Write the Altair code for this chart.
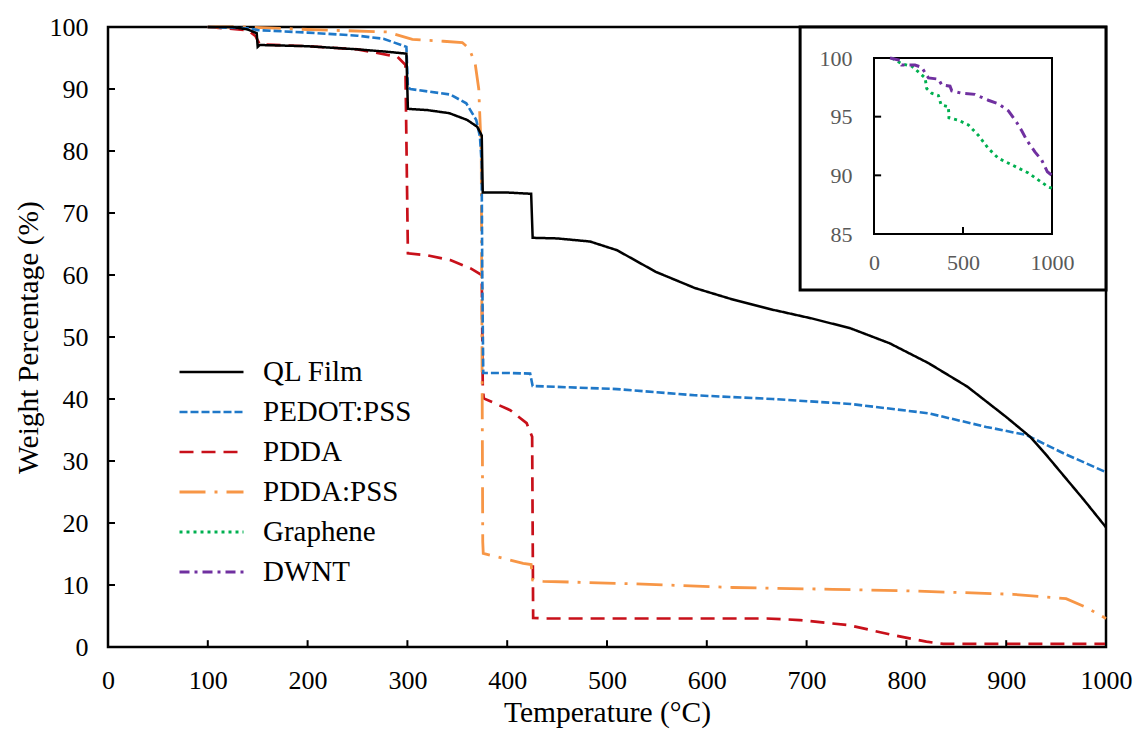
import altair as alt
import pandas as pd

# ---------------- data ----------------
NAMES = ["QL Film", "PEDOT:PSS", "PDDA", "PDDA:PSS", "Graphene", "DWNT"]
COLORS = ["#000000", "#1f78c8", "#c8101a", "#f79646", "#00b050", "#7030a0"]
DASHES = [[1, 0], [8, 3], [14, 8], [26, 9, 3, 9], [3, 4], [10, 5, 3, 5]]
WIDTHS = [2.5, 3, 3, 3, 3, 3]

X_TICKS = [0, 100, 200, 300, 400, 500, 600, 700, 800, 900, 1000]
Y_TICKS = [0, 10, 20, 30, 40, 50, 60, 70, 80, 90, 100]
INSET_X_TICKS = [0, 500, 1000]
INSET_Y_TICKS = [85, 90, 95, 100]

QL_T = [100, 125, 140, 149, 150, 152, 200, 250, 280, 299, 300.5, 320, 342, 360, 370,
        374.5, 375, 375.5, 400, 424, 425.5, 450, 483, 510, 549, 588, 627, 666, 705,
        744, 783, 822, 861, 900, 924, 939, 978, 1000]
QL_W = [100, 100, 99.6, 99.0, 96.8, 97.1, 96.9, 96.4, 96.0, 95.7, 86.8, 86.6, 86.1, 85.0,
        83.9, 82.5, 77.5, 73.3, 73.3, 73.1, 66.0, 65.9, 65.4, 64.0, 60.5, 57.9, 56.0,
        54.4, 53.0, 51.4, 49.0, 45.8, 42.0, 37.1, 33.9, 31.2, 23.7, 19.3]

PEDOT_T = [100, 140, 150, 200, 250, 276, 299, 300.5, 303, 343, 359, 369, 372.7, 374.4,
           375, 376, 400, 423, 425.5, 510, 588, 666, 744, 822, 880, 920, 958, 1000]
PEDOT_W = [100, 99.8, 99.5, 99.1, 98.6, 98.1, 96.8, 90.3, 90.0, 89.1, 87.7, 85.0, 82.3,
           78.0, 60.0, 44.2, 44.2, 44.1, 42.1, 41.6, 40.6, 40.0, 39.2, 37.7, 35.5, 34.2,
           31.2, 28.2]

PDDA_T = [100, 140, 148, 152, 200, 250, 290, 298, 300.5, 319, 343, 363, 374.5, 375.5,
          376.5, 403, 419.5, 425, 426, 440, 500, 600, 660, 693, 743, 787, 820, 837, 900,
          1000]
PDDA_W = [100, 99.5, 98.5, 97.2, 96.9, 96.4, 95.2, 93.9, 63.5, 63.2, 62.4, 61.1, 60.0,
          42.0, 40.1, 38.2, 36.1, 33.9, 4.7, 4.6, 4.6, 4.6, 4.6, 4.35, 3.5, 1.9, 0.86,
          0.5, 0.5, 0.5]

PSS_T = [100, 140, 200, 280, 305, 336, 355, 362, 368, 371.5, 374, 375.5, 376, 416, 424,
         425.5, 436, 526, 626, 726, 794, 907, 960, 980, 1000]
PSS_W = [100, 100, 99.6, 99.2, 98.0, 97.7, 97.5, 96.5, 94.0, 90.0, 80.0, 17.0, 15.1, 13.5,
         13.3, 10.8, 10.6, 10.2, 9.6, 9.3, 9.1, 8.5, 7.8, 6.4, 4.6]

GRAPH_T = [100, 156, 212, 258, 287, 296, 324, 362, 377, 418, 421, 474, 530, 587, 642,
           699, 774, 867, 980, 1000]
GRAPH_W = [100, 99.5, 99.3, 98.7, 98.3, 97.4, 97.0, 96.8, 96.0, 95.85, 94.9, 94.7, 94.3,
           93.4, 92.3, 91.45, 90.9, 90.2, 89.0, 88.9]

DWNT_T = [90, 145, 155, 230, 268, 306, 362, 381, 427, 437, 493, 567, 642, 698, 755, 802,
          830, 858, 904, 942, 974, 1000]
DWNT_W = [100, 99.8, 99.4, 99.4, 99.2, 98.3, 98.2, 97.7, 97.6, 97.2, 97.0, 96.9, 96.4,
          96.1, 95.5, 94.5, 93.8, 93.0, 92.0, 91.3, 90.3, 90.0]

# decoration extents (main-chart data units) of the inset's outer box
INSET_BOX_T = [693.5, 1000]
INSET_BOX_W = [57.6, 100]

FONT = "Liberation Serif"


def frame(t, w, name):
    return pd.DataFrame({"T": t, "W": w, "series": name, "i": list(range(len(t)))})


legend_props = dict(
    title=None, orient="none", legendX=70, legendY=329, symbolType="stroke",
    symbolSize=4096, symbolStrokeWidth=3, labelFont=FONT, labelFontSize=29,
    labelColor="black", labelOffset=18, clipHeight=32, rowPadding=8, padding=0,
    symbolOffset=0,
)

color = alt.Color("series:N", scale=alt.Scale(domain=NAMES, range=COLORS),
                  legend=alt.Legend(**legend_props))
dash = alt.StrokeDash("series:N", scale=alt.Scale(domain=NAMES, range=DASHES),
                      legend=alt.Legend(**legend_props))
width = alt.StrokeWidth("series:N", scale=alt.Scale(domain=NAMES, range=WIDTHS),
                        legend=None)

mx_scale = alt.Scale(domain=[0, 1000], nice=False, zero=False)
my_scale = alt.Scale(domain=[0, 100], nice=False, zero=False)

main_x = alt.X("T:Q", scale=mx_scale,
               axis=alt.Axis(values=X_TICKS, title="Temperature (°C)", labelPadding=20,
                             titleY=74, titleBaseline="alphabetic", format="d"))
main_y = alt.Y("W:Q", scale=my_scale,
               axis=alt.Axis(values=Y_TICKS, title="Weight Percentage (%)", labelPadding=20,
                             titleX=-80, titleY=310, titleAngle=270, titleAlign="center",
                             titleBaseline="middle", format="d"))

main_series = [
    (PDDA_T, PDDA_W, "PDDA"),
    (PSS_T, PSS_W, "PDDA:PSS"),
    (PEDOT_T, PEDOT_W, "PEDOT:PSS"),
    (QL_T, QL_W, "QL Film"),
]

main_layers = []
for t, w, n in main_series:
    main_layers.append(
        alt.Chart(frame(t, w, n)).mark_line(strokeCap="butt").encode(
            x=main_x, y=main_y, color=color, strokeDash=dash, strokeWidth=width,
            order="i:Q")
    )

x_ticks = alt.Chart(pd.DataFrame({"T": X_TICKS})).mark_rule(color="black", strokeWidth=2).encode(
    x=alt.X("T:Q", scale=mx_scale), y=alt.Y(datum=0, scale=my_scale), y2=alt.datum(1.1))
y_ticks = alt.Chart(pd.DataFrame({"W": Y_TICKS})).mark_rule(color="black", strokeWidth=2).encode(
    y=alt.Y("W:Q", scale=my_scale), x=alt.X(datum=0, scale=mx_scale), x2=alt.datum(7))

inset_box = alt.Chart(pd.DataFrame({"a": [0]})).mark_rect(
    fill="white", stroke="black", strokeWidth=3).encode(
    x=alt.X(datum=INSET_BOX_T[0], scale=mx_scale), x2=alt.datum(INSET_BOX_T[1]),
    y=alt.Y(datum=INSET_BOX_W[0], scale=my_scale), y2=alt.datum(INSET_BOX_W[1]))

main = alt.layer(*main_layers, x_ticks, y_ticks, inset_box)

# ---------------- inset ----------------
ix_scale = alt.Scale(domain=[0, 1000], range=[766, 944], nice=False, zero=False)
iy_scale = alt.Scale(domain=[85, 100], range=[207, 31], nice=False, zero=False)

in_x = alt.X("T:Q", scale=ix_scale,
             axis=alt.Axis(values=INSET_X_TICKS, orient="bottom", offset=-413,
                           labelPadding=18, labelFontSize=22, labelColor="#595959",
                           title=None, format="d", zindex=2))
in_y = alt.Y("W:Q", scale=iy_scale,
             axis=alt.Axis(values=INSET_Y_TICKS, orient="left", offset=-766,
                           labelPadding=22, labelFontSize=22, labelColor="#595959",
                           title=None, format="d", zindex=2))

inset_layers = []
for t, w, n in [(GRAPH_T, GRAPH_W, "Graphene"), (DWNT_T, DWNT_W, "DWNT")]:
    inset_layers.append(
        alt.Chart(frame(t, w, n)).mark_line(strokeCap="butt").encode(
            x=in_x, y=in_y, color=color, strokeDash=dash, strokeWidth=width,
            order="i:Q")
    )

inset_frame = alt.Chart(pd.DataFrame({"a": [0]})).mark_rect(
    fill="white", fillOpacity=0, stroke="black", strokeWidth=2).encode(
    x=alt.X(datum=INSET_X_TICKS[0], scale=ix_scale), x2=alt.datum(INSET_X_TICKS[-1]),
    y=alt.Y(datum=INSET_Y_TICKS[0], scale=iy_scale), y2=alt.datum(INSET_Y_TICKS[-1]))

in_xt = alt.Chart(pd.DataFrame({"T": INSET_X_TICKS[1:-1]})).mark_rule(
    color="black", strokeWidth=2).encode(
    x=alt.X("T:Q", scale=ix_scale), y=alt.Y(datum=85, scale=iy_scale), y2=alt.datum(85.6))
in_yt = alt.Chart(pd.DataFrame({"W": INSET_Y_TICKS[1:-1]})).mark_rule(
    color="black", strokeWidth=2).encode(
    y=alt.Y("W:Q", scale=iy_scale), x=alt.X(datum=0, scale=ix_scale), x2=alt.datum(40))

inset = alt.layer(inset_frame, in_xt, in_yt, *inset_layers)

chart = alt.layer(main, inset).resolve_scale(x="independent", y="independent").properties(
    width=998, height=620,
    autosize=alt.AutoSizeParams(type="none"),
    padding={"left": 108, "top": 27, "right": 29, "bottom": 86},
).configure(
    background="white"
).configure_view(
    stroke="black", strokeWidth=2.5
).configure_axis(
    labelFont=FONT, labelFontSize=26, labelColor="black",
    titleFont=FONT, titleFontSize=29.5, titleFontWeight="normal", titleColor="black",
    grid=False, ticks=False, tickSize=0, domain=False, labelFlush=False, labelOverlap=False,
)

chart.save("out.html", embed_options={"renderer": "svg", "actions": False})
